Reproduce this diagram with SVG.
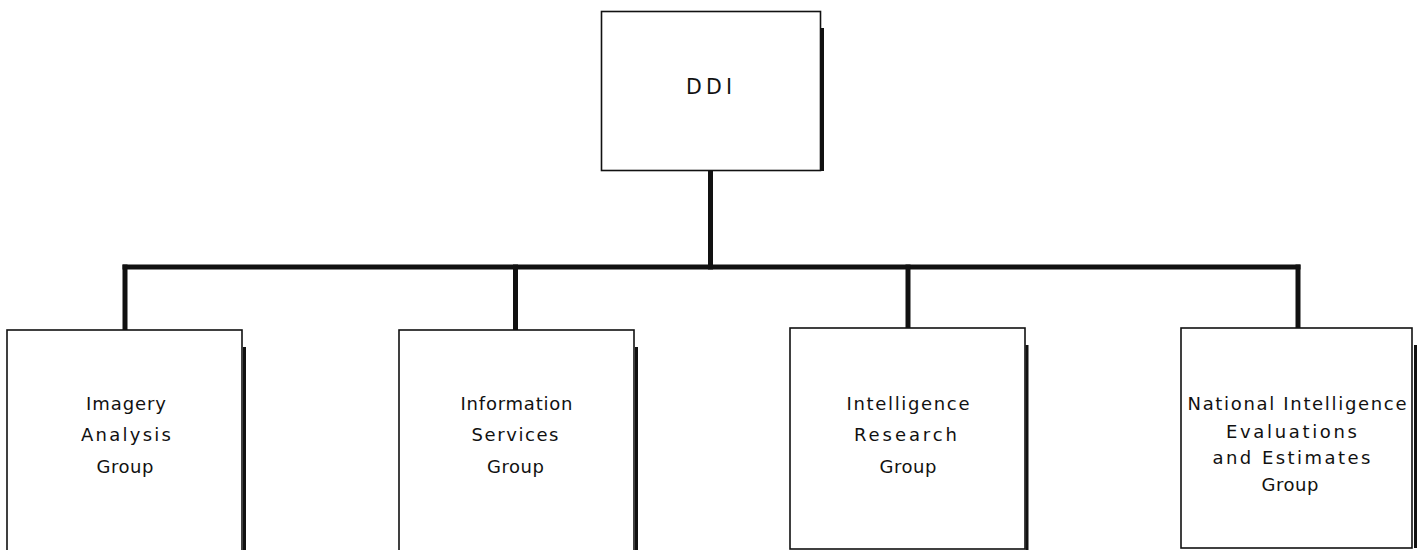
<svg xmlns="http://www.w3.org/2000/svg" width="1420" height="550" viewBox="0 0 1420 550">
<style>
  .box { fill: #ffffff; stroke: #111111; stroke-width: 1.6; }
  .shadow { stroke: #111111; stroke-width: 3; fill: none; }
  .conn { stroke: #111111; stroke-width: 5; fill: none; stroke-linecap: square; }
  .lbl { font-family: "DejaVu Sans", "Liberation Sans", sans-serif; font-size: 18px; fill: #111111; text-anchor: middle; }
  .top { font-size: 20.5px; }
</style>
<rect x="0" y="0" width="1420" height="550" fill="#ffffff"/>
<g id="connectors">
  <line class="conn" x1="710.5" y1="171" x2="710.5" y2="267"/>
  <line class="conn" x1="125" y1="267" x2="1298" y2="267"/>
  <line class="conn" x1="125" y1="267" x2="125" y2="329"/>
  <line class="conn" x1="515.5" y1="267" x2="515.5" y2="329"/>
  <line class="conn" x1="908" y1="267" x2="908" y2="327"/>
  <line class="conn" x1="1298" y1="267" x2="1298" y2="327"/>
</g>
<g id="ddi">
  <rect class="box" x="601.5" y="11.5" width="219" height="159"/>
  <line class="shadow" x1="822.5" y1="28" x2="822.5" y2="171"/>
  <text class="lbl top" x="709" y="94" textLength="46" lengthAdjust="spacing">DDI</text>
</g>
<g id="imagery">
  <rect class="box" x="7" y="330" width="235" height="225"/>
  <line class="shadow" x1="244.5" y1="347" x2="244.5" y2="552"/>
  <text class="lbl" x="126" y="409.5" textLength="80" lengthAdjust="spacing">Imagery</text>
  <text class="lbl" x="126" y="441" textLength="90" lengthAdjust="spacing">Analysis</text>
  <text class="lbl" x="125" y="472.5" textLength="57" lengthAdjust="spacing">Group</text>
</g>
<g id="information">
  <rect class="box" x="399" y="330" width="235" height="225"/>
  <line class="shadow" x1="636.5" y1="347" x2="636.5" y2="552"/>
  <text class="lbl" x="516.5" y="409.5" textLength="112" lengthAdjust="spacing">Information</text>
  <text class="lbl" x="515" y="441" textLength="87" lengthAdjust="spacing">Services</text>
  <text class="lbl" x="515.5" y="472.5" textLength="57" lengthAdjust="spacing">Group</text>
</g>
<g id="intelligence">
  <rect class="box" x="790" y="328" width="235" height="221"/>
  <line class="shadow" x1="1027" y1="345" x2="1027" y2="550"/>
  <text class="lbl" x="908" y="409.5" textLength="123" lengthAdjust="spacing">Intelligence</text>
  <text class="lbl" x="905.5" y="441" textLength="103" lengthAdjust="spacing">Research</text>
  <text class="lbl" x="908" y="472.5" textLength="57" lengthAdjust="spacing">Group</text>
</g>
<g id="national">
  <rect class="box" x="1181" y="328" width="231" height="220"/>
  <line class="shadow" x1="1415.5" y1="345" x2="1415.5" y2="548"/>
  <text class="lbl" x="1297" y="410" textLength="219" lengthAdjust="spacing">National Intelligence</text>
  <text class="lbl" x="1291.5" y="437.5" textLength="131" lengthAdjust="spacing">Evaluations</text>
  <text class="lbl" x="1291.5" y="464" textLength="158" lengthAdjust="spacing">and Estimates</text>
  <text class="lbl" x="1290" y="490.5" textLength="57" lengthAdjust="spacing">Group</text>
</g>
</svg>
